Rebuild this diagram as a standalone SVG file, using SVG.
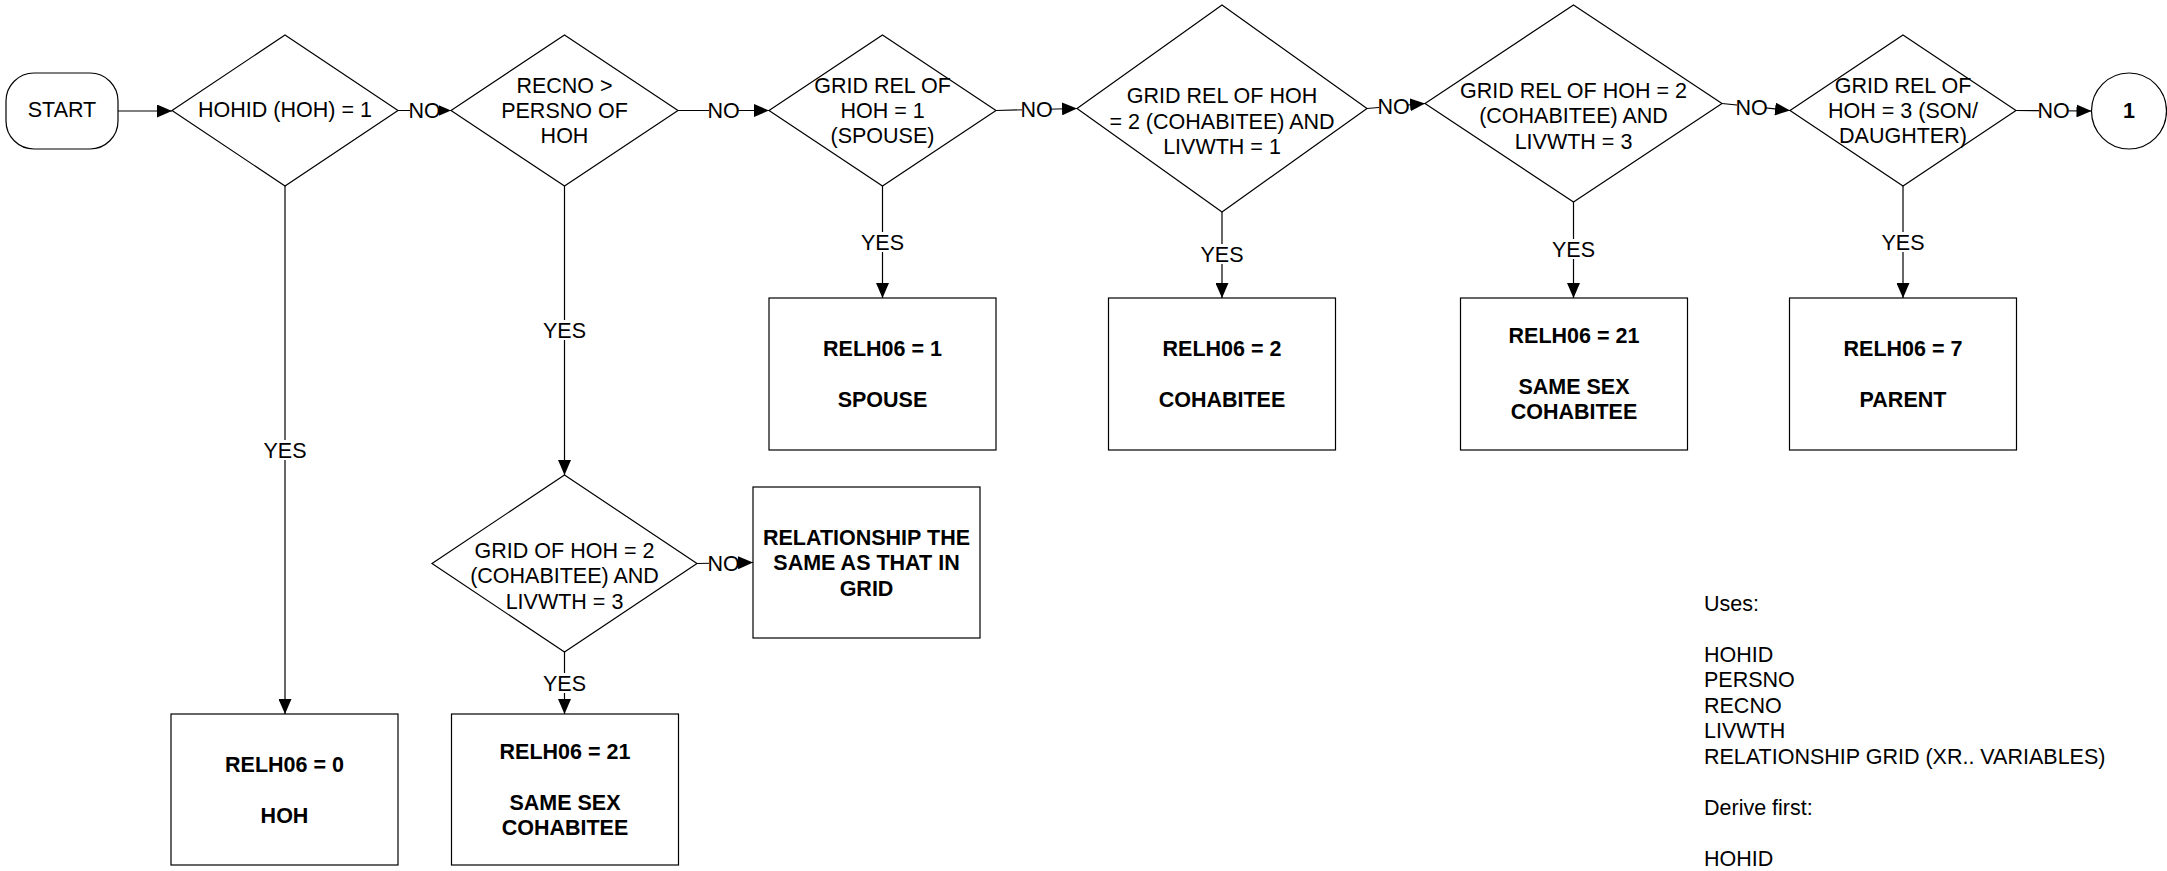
<svg xmlns="http://www.w3.org/2000/svg" width="2167" height="871" viewBox="0 0 2167 871">
<style>
.shape{fill:#fff;stroke:#000;stroke-width:1.2}
.conn{fill:none;stroke:#000;stroke-width:1.2}
text{font-family:"Liberation Sans",Arial,sans-serif;font-size:21.5px;fill:#000;text-anchor:middle}
.b{font-weight:bold}
.lbg{fill:#fff;stroke:none}
.note{text-anchor:start}
</style>
<defs>
<marker id="arr" markerUnits="userSpaceOnUse" markerWidth="15" markerHeight="13" refX="15" refY="6.5" orient="auto">
<path d="M0,0 L15,6.5 L0,13 z" fill="#000"/>
</marker>
</defs>
<rect width="2167" height="871" fill="#fff"/>

<g id="connectors">
<path class="conn" d="M118,111 H172" marker-end="url(#arr)"/>
<path class="conn" d="M398,110.5 H451" marker-end="url(#arr)"/>
<path class="conn" d="M678,110.5 H769" marker-end="url(#arr)"/>
<path class="conn" d="M996,110.5 L1077,108.5" marker-end="url(#arr)"/>
<path class="conn" d="M1367,108.5 L1425,103.5" marker-end="url(#arr)"/>
<path class="conn" d="M1722,103.5 L1790,110.5" marker-end="url(#arr)"/>
<path class="conn" d="M2016,110.5 L2091.5,111" marker-end="url(#arr)"/>
<path class="conn" d="M285,186 V714" marker-end="url(#arr)"/>
<path class="conn" d="M564.5,186 V475" marker-end="url(#arr)"/>
<path class="conn" d="M564.5,652 V714" marker-end="url(#arr)"/>
<path class="conn" d="M697,563.5 L753,562.5" marker-end="url(#arr)"/>
<path class="conn" d="M882.5,186 V298" marker-end="url(#arr)"/>
<path class="conn" d="M1222,212 V298" marker-end="url(#arr)"/>
<path class="conn" d="M1573.5,202 V298" marker-end="url(#arr)"/>
<path class="conn" d="M1903,186 V298" marker-end="url(#arr)"/>
<g id="labels">
<rect class="lbg" x="410" y="101" width="29" height="19"/><text x="424.5" y="118">NO</text>
<rect class="lbg" x="709" y="101" width="29" height="19"/><text x="723.5" y="118">NO</text>
<rect class="lbg" x="1022" y="100" width="29" height="19"/><text x="1036.5" y="117">NO</text>
<rect class="lbg" x="1379" y="97" width="29" height="19"/><text x="1393.5" y="113.5">NO</text>
<rect class="lbg" x="1737" y="98" width="29" height="19"/><text x="1751.5" y="114.5">NO</text>
<rect class="lbg" x="2039" y="101" width="29" height="19"/><text x="2053.5" y="118">NO</text>
<rect class="lbg" x="709" y="553" width="29" height="19"/><text x="723.5" y="570.5">NO</text>
<rect class="lbg" x="264" y="440" width="42" height="20"/><text x="285" y="457.5">YES</text>
<rect class="lbg" x="543.5" y="320" width="42" height="20"/><text x="564.5" y="337.5">YES</text>
<rect class="lbg" x="543.5" y="673" width="42" height="20"/><text x="564.5" y="690.5">YES</text>
<rect class="lbg" x="861.5" y="232" width="42" height="20"/><text x="882.5" y="249.5">YES</text>
<rect class="lbg" x="1201" y="244" width="42" height="20"/><text x="1222" y="261.5">YES</text>
<rect class="lbg" x="1552.5" y="239" width="42" height="20"/><text x="1573.5" y="256.5">YES</text>
<rect class="lbg" x="1882" y="232" width="42" height="20"/><text x="1903" y="249.5">YES</text>
</g>
</g>

<g id="start">
<rect class="shape" x="6" y="73" width="112" height="76" rx="28" ry="28"/>
<text x="62" y="117">START</text>
</g>

<g id="d1">
<polygon class="shape" points="285,35 398,110.5 285,186 172,110.5"/>
<text x="285" y="117">HOHID (HOH) = 1</text>
</g>

<g id="d2">
<polygon class="shape" points="564.5,35 678,110.5 564.5,186 451,110.5"/>
<text x="564.5" y="93">RECNO &gt;</text>
<text x="564.5" y="118">PERSNO OF</text>
<text x="564.5" y="143">HOH</text>
</g>

<g id="d3">
<polygon class="shape" points="882.5,35 996,110.5 882.5,186 769,110.5"/>
<text x="882.5" y="93">GRID REL OF</text>
<text x="882.5" y="118">HOH = 1</text>
<text x="882.5" y="143">(SPOUSE)</text>
</g>

<g id="d4">
<polygon class="shape" points="1222,5 1367,108.5 1222,212 1077,108.5"/>
<text x="1222" y="103">GRID REL OF HOH</text>
<text x="1222" y="128.5">= 2 (COHABITEE) AND</text>
<text x="1222" y="154">LIVWTH = 1</text>
</g>

<g id="d5">
<polygon class="shape" points="1573.5,5 1722,103.5 1573.5,202 1425,103.5"/>
<text x="1573.5" y="97.5">GRID REL OF HOH = 2</text>
<text x="1573.5" y="123">(COHABITEE) AND</text>
<text x="1573.5" y="148.5">LIVWTH = 3</text>
</g>

<g id="d6">
<polygon class="shape" points="1903,35 2016,110.5 1903,186 1790,110.5"/>
<text x="1903" y="92.5">GRID REL OF</text>
<text x="1903" y="118">HOH = 3 (SON/</text>
<text x="1903" y="143">DAUGHTER)</text>
</g>

<g id="c1">
<ellipse class="shape" cx="2129" cy="111" rx="37.5" ry="38"/>
<text class="b" x="2129" y="118">1</text>
</g>

<g id="d7">
<polygon class="shape" points="564.5,475 697,563.5 564.5,652 432,563.5"/>
<text x="564.5" y="557.5">GRID OF HOH = 2</text>
<text x="564.5" y="583">(COHABITEE) AND</text>
<text x="564.5" y="608.5">LIVWTH = 3</text>
</g>

<g id="b_spouse">
<rect class="shape" x="769" y="298" width="227" height="152"/>
<text class="b" x="882.5" y="356">RELH06 = 1</text>
<text class="b" x="882.5" y="407">SPOUSE</text>
</g>

<g id="b_cohab">
<rect class="shape" x="1108.5" y="298" width="227" height="152"/>
<text class="b" x="1222" y="356">RELH06 = 2</text>
<text class="b" x="1222" y="407">COHABITEE</text>
</g>

<g id="b_samesex">
<rect class="shape" x="1460.5" y="298" width="227" height="152"/>
<text class="b" x="1574" y="342.5">RELH06 = 21</text>
<text class="b" x="1574" y="393.5">SAME SEX</text>
<text class="b" x="1574" y="419">COHABITEE</text>
</g>

<g id="b_parent">
<rect class="shape" x="1789.5" y="298" width="227" height="152"/>
<text class="b" x="1903" y="356">RELH06 = 7</text>
<text class="b" x="1903" y="407">PARENT</text>
</g>

<g id="b_rel">
<rect class="shape" x="753" y="487" width="227" height="151"/>
<text class="b" x="866.5" y="544.5">RELATIONSHIP THE</text>
<text class="b" x="866.5" y="570">SAME AS THAT IN</text>
<text class="b" x="866.5" y="595.5">GRID</text>
</g>

<g id="b_hoh">
<rect class="shape" x="171" y="714" width="227" height="151"/>
<text class="b" x="284.5" y="771.5">RELH06 = 0</text>
<text class="b" x="284.5" y="822.5">HOH</text>
</g>

<g id="b_samesex2">
<rect class="shape" x="451.5" y="714" width="227" height="151"/>
<text class="b" x="565" y="758.5">RELH06 = 21</text>
<text class="b" x="565" y="809.5">SAME SEX</text>
<text class="b" x="565" y="835">COHABITEE</text>
</g>

<g id="notes">
<text class="note" x="1704" y="610.5">Uses:</text>
<text class="note" x="1704" y="661.5">HOHID</text>
<text class="note" x="1704" y="687">PERSNO</text>
<text class="note" x="1704" y="712.5">RECNO</text>
<text class="note" x="1704" y="738">LIVWTH</text>
<text class="note" x="1704" y="763.5">RELATIONSHIP GRID (XR.. VARIABLES)</text>
<text class="note" x="1704" y="814.5">Derive first:</text>
<text class="note" x="1704" y="865.5">HOHID</text>
</g>
</svg>
